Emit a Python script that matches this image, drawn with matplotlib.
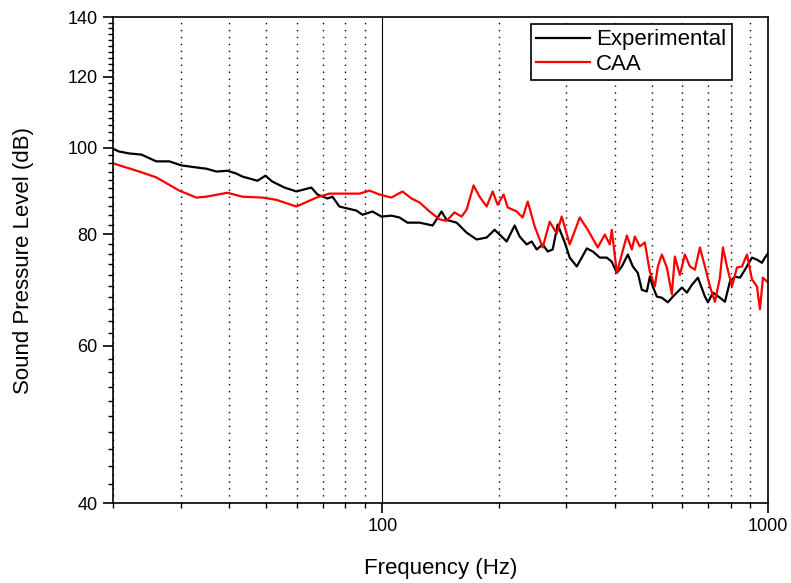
import matplotlib.pyplot as plt
from matplotlib.ticker import FixedLocator, NullFormatter, FixedFormatter

plt.rcParams['font.family'] = ['Liberation Sans', 'DejaVu Sans']

# Experimental spectrum
exp_freq = [20.0, 20.7, 22.0, 23.7, 25.9, 28.0, 30.1, 32.9, 34.9, 37.1, 39.6, 41.8,
            43.3, 47.4, 49.7, 51.8, 55.7, 59.8, 65.4, 67.8, 72.0, 74.2, 77.3, 85.6,
            88.7, 94.2, 99.4, 105.5, 110.7, 116.1, 124.8, 134.9, 142.3, 146.6, 155.7,
            165.3, 175.5, 186.3, 195.4, 210.0, 220.2, 226.9, 236.6, 243.8, 251.2, 260.4,
            268.3, 276.4, 284.8, 297.0, 306.0, 319.1, 328.8, 338.8, 351.2, 366.2, 381.8,
            393.4, 405.4, 417.7, 433.0, 446.1, 459.5, 470.7, 485.0, 493.8, 502.7, 514.9,
            530.5, 549.9, 566.6, 597.9, 616.1, 634.8, 658.0, 686.2, 698.6, 719.7, 750.5,
            773.3, 796.8, 821.0, 846.0, 871.7, 908.8, 936.2, 964.5, 982.0, 1000.0]
exp_spl = [99.7, 99.0, 98.5, 98.2, 96.5, 96.5, 95.5, 95.0, 94.7, 94.0, 94.2, 93.5,
           92.8, 91.8, 93.0, 91.6, 90.2, 89.3, 90.2, 88.6, 87.7, 88.1, 85.9, 85.0,
           84.1, 84.8, 83.7, 83.9, 83.5, 82.4, 82.4, 81.8, 84.8, 83.0, 82.4,
           80.3, 78.9, 79.3, 80.9, 78.5, 81.8, 79.5, 77.9, 78.5, 76.9, 77.9,
           76.5, 76.9, 82.0, 78.3, 75.3, 73.6, 75.3, 77.1, 76.5, 75.3, 75.3,
           74.5, 72.4, 73.6, 75.9, 73.6, 72.4, 69.3, 69.0, 71.7, 69.9, 68.1,
           67.9, 67.1, 68.1, 69.7, 68.8, 70.2, 71.5, 68.1, 67.1, 68.8, 67.9,
           67.2, 70.8, 71.7, 71.5, 73.0, 75.3, 74.9, 74.3, 75.3, 76.1]

# CAA prediction
caa_freq = [20.0, 23.4, 25.9, 29.7, 32.9, 34.9, 39.6, 43.3, 48.8, 53.0, 59.8, 67.4,
            72.8, 87.2, 92.5, 98.2, 105.5, 112.7, 118.9, 124.8, 132.5, 140.6, 146.6,
            153.8, 160.4, 165.3, 172.3, 178.6, 186.3, 193.1, 198.9, 206.2, 211.2, 222.9,
            231.0, 238.1, 248.2, 260.4, 271.5, 283.1, 291.7, 306.0, 324.9, 340.8, 361.8,
            377.3, 388.7, 393.4, 405.4, 430.4, 443.4, 451.4, 465.1, 479.2, 493.8, 508.8,
            518.0, 530.5, 546.6, 563.2, 573.4, 590.8, 608.7, 627.2, 646.3, 665.9, 686.2,
            707.0, 728.4, 750.5, 764.1, 782.6, 806.4, 830.9, 856.2, 882.2, 908.8, 936.2,
            953.1, 970.3, 994.1]
caa_spl = [96.0, 94.0, 92.6, 89.5, 87.9, 88.1, 89.0, 88.1, 87.9, 87.4, 85.9, 87.9,
           88.8, 88.8, 89.5, 88.6, 87.9, 89.3, 87.7, 86.8, 84.8, 83.1, 82.8,
           84.6, 83.7, 85.2, 90.7, 88.1, 85.9, 89.3, 86.3, 88.6, 85.7, 84.8,
           83.5, 87.0, 81.6, 77.3, 82.6, 80.1, 83.7, 77.9, 83.5, 80.9, 77.3,
           79.9, 77.9, 80.9, 72.4, 79.7, 76.9, 79.5, 77.5, 78.3, 72.6, 69.9,
           73.6, 75.9, 73.4, 68.5, 75.5, 72.0, 75.9, 73.6, 73.0, 77.3, 73.6,
           69.9, 67.2, 71.5, 77.3, 73.6, 69.9, 73.4, 73.6, 75.9, 71.2, 69.9,
           65.9, 71.5, 70.8]

y_major = [40, 60, 80, 100, 120, 140]
y_minor = [v for v in range(40, 141, 2) if v not in y_major]
x_major = [100, 1000]
x_minor = [20, 30, 40, 50, 60, 70, 80, 90, 200, 300, 400, 500, 600, 700, 800, 900]

fig = plt.figure(figsize=(7.91, 5.83), dpi=100)
ax = fig.add_axes([0.1429, 0.1372, 0.828, 0.8336])

ax.plot(exp_freq, exp_spl, color='black', lw=1.6, label='Experimental')
ax.plot(caa_freq, caa_spl, color='red', lw=1.6, label='CAA')

ax.set_xscale('log')
ax.set_yscale('log')
ax.set_xlim(20, 1000)
ax.set_ylim(40, 140)

ax.xaxis.set_major_locator(FixedLocator(x_major))
ax.xaxis.set_major_formatter(FixedFormatter([str(v) for v in x_major]))
ax.xaxis.set_minor_locator(FixedLocator(x_minor))
ax.xaxis.set_minor_formatter(NullFormatter())
ax.yaxis.set_major_locator(FixedLocator(y_major))
ax.yaxis.set_major_formatter(FixedFormatter([str(v) for v in y_major]))
ax.yaxis.set_minor_locator(FixedLocator(y_minor))
ax.yaxis.set_minor_formatter(NullFormatter())

ax.grid(which='minor', axis='x', color='black', linestyle=(0, (1, 4)), lw=1)
ax.grid(which='major', axis='x', color='black', linestyle='-', lw=0.8)

ax.tick_params(which='major', direction='out', length=7, width=1.2, labelsize=13, pad=4)
ax.tick_params(which='minor', direction='out', length=3.5, width=1.0)
for s in ax.spines.values():
    s.set_linewidth(1.2)

ax.set_xlabel('Frequency (Hz)', fontsize=16, labelpad=16)
ax.set_ylabel('Sound Pressure Level (dB)', fontsize=16, labelpad=24)

leg = ax.legend(loc='upper right', bbox_to_anchor=(0.945, 0.986), fontsize=16,
                fancybox=False, edgecolor='black', framealpha=1, handlelength=2.4,
                borderpad=0.25, labelspacing=0.15, handletextpad=0.3, borderaxespad=0)
leg.get_frame().set_linewidth(1.2)

fig.savefig('out.png', dpi=100)
